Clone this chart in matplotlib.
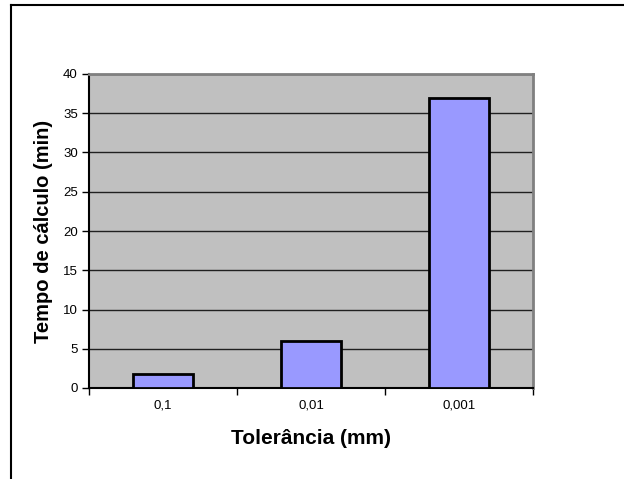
import numpy as np
import matplotlib.pyplot as plt
from matplotlib.lines import Line2D

plt.rcParams['font.family'] = ['Liberation Sans', 'DejaVu Sans']

categorias = ['0,1', '0,01', '0,001']
tempos = [1.8, 6.0, 37.0]
y_ticks = [0, 5, 10, 15, 20, 25, 30, 35, 40]

fig = plt.figure(figsize=(6.24, 4.79), dpi=100)
ax = fig.add_axes([89 / 624, 1 - 388 / 479, 444 / 624, 314 / 479])

x = np.arange(len(categorias))
ax.set_facecolor('#C0C0C0')
ax.bar(x, tempos, width=0.4, color='#9999FF', edgecolor='black', linewidth=2, zorder=3)

ax.set_xlim(-0.5, len(categorias) - 0.5)
ax.set_ylim(0, 40)
ax.set_yticks(y_ticks)
ax.set_yticklabels([str(v) for v in y_ticks], fontsize=9.5)
ax.yaxis.grid(True, color='#202020', linewidth=1, zorder=1)

# category labels centered, tick marks between categories
ax.set_xticks(np.arange(len(categorias) + 1) - 0.5)
ax.set_xticklabels([])
ax.set_xticks(x, minor=True)
ax.set_xticklabels(categorias, minor=True, fontsize=9.5)
ax.tick_params(axis='x', which='minor', length=0, pad=8)
ax.tick_params(axis='x', which='major', length=5, width=1)
ax.tick_params(axis='y', length=5, width=1, pad=3)

for side in ['top', 'right']:
    ax.spines[side].set_color('#808080')
    ax.spines[side].set_linewidth(2)
ax.spines['left'].set_linewidth(1.5)
ax.spines['bottom'].set_linewidth(1.5)

ax.set_xlabel('Tolerância (mm)', fontsize=15, fontweight='bold', labelpad=13)
ax.set_ylabel('Tempo de cálculo (min)', fontsize=14.5, fontweight='bold', labelpad=7)

# outer chart frame (left and top edges visible)
fig.add_artist(Line2D([10.5 / 624, 10.5 / 624], [0, 1 - 5 / 479], color='black', linewidth=1.5))
fig.add_artist(Line2D([10.5 / 624, 1], [1 - 5 / 479, 1 - 5 / 479], color='black', linewidth=1.5))

fig.savefig('out.png', dpi=100)
